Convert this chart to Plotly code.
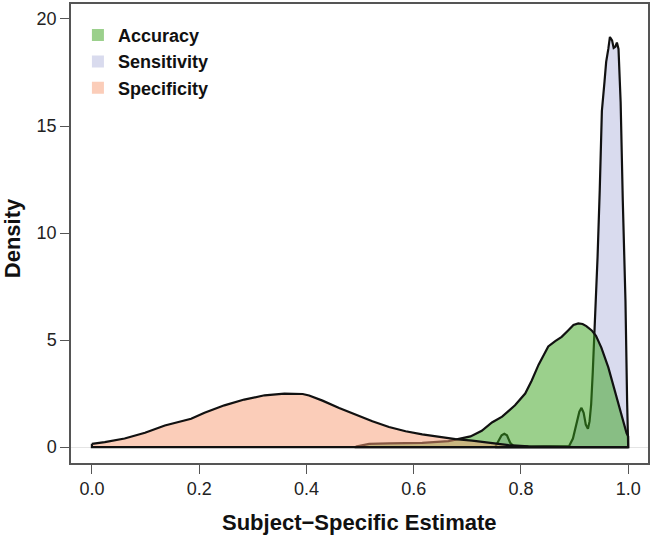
import plotly.graph_objects as go

# density estimates
spec_x = [0.0, 0.024, 0.061, 0.099, 0.136, 0.173, 0.185, 0.21, 0.247, 0.284, 0.322, 0.359,
          0.393, 0.405, 0.43, 0.461, 0.492, 0.523, 0.554, 0.585, 0.616, 0.647, 0.678, 0.709,
          0.74, 0.777, 0.814, 0.85, 0.9, 0.95, 1.0]
spec_y = [0.15, 0.23, 0.40, 0.67, 1.01, 1.24, 1.32, 1.60, 1.95, 2.22, 2.42, 2.50,
          2.48, 2.41, 2.17, 1.83, 1.52, 1.21, 0.94, 0.74, 0.59, 0.47, 0.37, 0.30,
          0.20, 0.09, 0.03, 0.01, 0.0, 0.0, 0.0]

acc_x = [0.492, 0.517, 0.554, 0.616, 0.665, 0.69, 0.706, 0.727, 0.746, 0.765, 0.789, 0.808,
         0.82, 0.833, 0.851, 0.864, 0.876, 0.888, 0.898, 0.907, 0.915, 0.922, 0.932, 0.94,
         0.95, 0.963, 0.975, 0.988, 0.997, 1.0]
acc_y = [0.02, 0.15, 0.17, 0.20, 0.28, 0.40, 0.50, 0.76, 1.15, 1.42, 1.95, 2.50,
         3.10, 3.85, 4.70, 4.95, 5.15, 5.45, 5.70, 5.78, 5.75, 5.65, 5.45, 5.20,
         4.65, 3.72, 2.60, 1.40, 0.65, 0.50]

sens_x = [0.752, 0.758, 0.764, 0.769, 0.774, 0.78, 0.786, 0.82, 0.86, 0.89, 0.897, 0.904,
          0.909, 0.913, 0.917, 0.921, 0.925, 0.928, 0.931, 0.934, 0.938, 0.943, 0.947, 0.951,
          0.956, 0.959, 0.963, 0.966, 0.970, 0.973, 0.976, 0.979, 0.982, 0.986, 0.990, 0.995,
          0.998, 1.0]
sens_y = [0.0, 0.30, 0.55, 0.62, 0.55, 0.20, 0.05, 0.02, 0.02, 0.05, 0.40, 1.15,
          1.65, 1.83, 1.60, 1.05, 0.85, 1.20, 2.00, 3.50, 5.70, 8.90, 12.0, 15.7,
          17.1, 18.0, 18.6, 19.16, 19.0, 18.65, 18.7, 18.9, 18.6, 16.1, 11.5, 6.8,
          2.2, 0.0]

series = ["Accuracy", "Sensitivity", "Specificity"]
fills = {"Accuracy": "rgba(55,161,25,0.5)",
         "Sensitivity": "rgba(179,183,221,0.5)",
         "Specificity": "rgba(247,155,115,0.5)"}
data = {"Accuracy": (acc_x, acc_y), "Sensitivity": (sens_x, sens_y), "Specificity": (spec_x, spec_y)}

fig = go.Figure()

# polygons, closed down to the baseline
for name in ["Sensitivity", "Accuracy", "Specificity"]:
    xs, ys = data[name]
    fig.add_trace(go.Scatter(x=list(xs) + [xs[-1], xs[0], xs[0]], y=list(ys) + [0, 0, ys[0]],
                             fill="toself", fillcolor=fills[name], mode="lines",
                             line=dict(color="#111111", width=2.2), showlegend=False,
                             hoverinfo="skip"))

# legend entries
for name in series:
    fig.add_trace(go.Scatter(x=[None], y=[None], mode="markers", name=name,
                             marker=dict(symbol="square", size=14, color=fills[name])))

axis_common = dict(showline=True, linecolor="#555555", linewidth=1.5, mirror=True,
                   ticks="outside", ticklen=9, tickcolor="#555555", tickwidth=1.2,
                   showgrid=False, tickfont=dict(size=18, color="#222222"))

fig.update_xaxes(range=[-0.039, 1.037], tickvals=[0, 0.2, 0.4, 0.6, 0.8, 1.0],
                 ticktext=["0.0", "0.2", "0.4", "0.6", "0.8", "1.0"], zeroline=False,
                 **axis_common)
fig.update_yaxes(range=[-0.744, 20.70], tickvals=[0, 5, 10, 15, 20], zeroline=True,
                 zerolinecolor="#e4e4e4", zerolinewidth=1, **axis_common)

fig.update_layout(
    width=652, height=541,
    margin=dict(l=71, r=2, t=2, b=78),
    paper_bgcolor="white", plot_bgcolor="white",
    font=dict(family="Liberation Sans, Arial, sans-serif", color="#111111"),
    showlegend=True,
    legend=dict(x=0.012, y=0.972, xanchor="left", yanchor="top", bgcolor="rgba(0,0,0,0)",
                font=dict(size=18, color="#111111", weight="bold"), itemsizing="constant",
                tracegroupgap=0),
    annotations=[
        dict(text="<b>Subject\u2212Specific Estimate</b>", x=0.5, y=-0.130, xref="paper", yref="paper",
             xanchor="center", yanchor="middle", showarrow=False, font=dict(size=22, color="#111111")),
        dict(text="<b>Density</b>", x=-0.102, y=0.49, xref="paper", yref="paper", textangle=-90,
             xanchor="center", yanchor="middle", showarrow=False, font=dict(size=22, color="#111111")),
    ],
)

fig.write_html("out.html", config={"displayModeBar": False},
               post_script="document.body.style.margin='0';")
